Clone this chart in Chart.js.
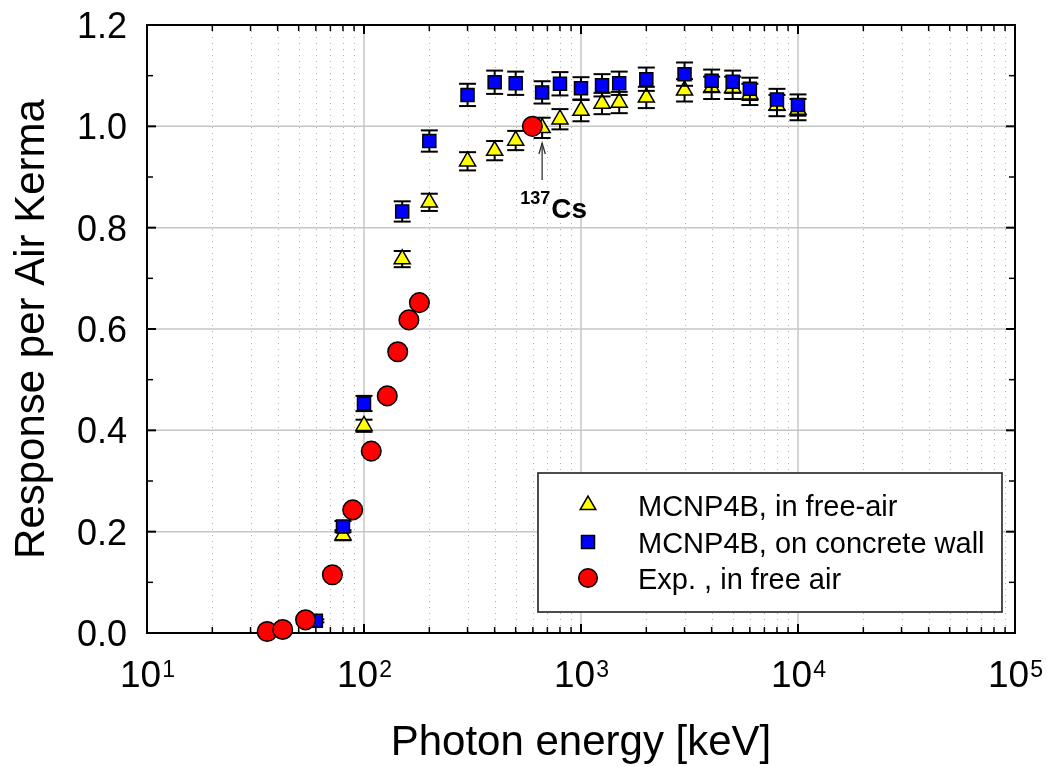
<!DOCTYPE html>
<html>
<head>
<meta charset="utf-8">
<script src="https://cdn.jsdelivr.net/npm/chart.js@4.4.1/dist/chart.umd.min.js"></script>
<style>
  html, body { margin: 0; padding: 0; background: #ffffff; }
  canvas { display: block; }
</style>
</head>
<body>
<canvas id="chart" width="1047" height="767"></canvas>
<script>
// Photon energies (keV) and detector response per unit air kerma
const freeAirEnergy   = [80, 100, 150, 200, 300, 400, 500, 662, 800, 1000, 1250, 1500, 2000, 3000, 4000, 5000, 6000, 8000, 10000];
const freeAirResponse = [0.193, 0.409, 0.738, 0.850, 0.931, 0.952, 0.972, 0.997, 1.014, 1.031, 1.045, 1.047, 1.057, 1.071, 1.076, 1.076, 1.063, 1.041, 1.033];
const freeAirError    = [0.010, 0.012, 0.016, 0.017, 0.018, 0.019, 0.019, 0.020, 0.020, 0.021, 0.021, 0.021, 0.021, 0.022, 0.022, 0.022, 0.021, 0.021, 0.021];

const wallEnergy   = [60, 80, 100, 150, 200, 300, 400, 500, 662, 800, 1000, 1250, 1500, 2000, 3000, 4000, 5000, 6000, 8000, 10000];
const wallResponse = [0.024, 0.210, 0.453, 0.832, 0.971, 1.062, 1.087, 1.085, 1.067, 1.084, 1.075, 1.081, 1.085, 1.093, 1.103, 1.090, 1.088, 1.074, 1.053, 1.042];
const wallError    = [0.003, 0.011, 0.015, 0.020, 0.021, 0.022, 0.023, 0.023, 0.022, 0.023, 0.022, 0.022, 0.023, 0.023, 0.023, 0.022, 0.022, 0.022, 0.021, 0.021];

const expEnergy   = [35.8, 42.2, 53.8, 71.5, 88.7, 108, 128, 143, 161, 180, 597];
const expResponse = [0.003, 0.007, 0.026, 0.115, 0.243, 0.359, 0.468, 0.555, 0.618, 0.652, 1.000];

const seriesNames = ['MCNP4B, in free-air', 'MCNP4B, on concrete wall', 'Exp. , in free air'];

const yTickLabels = ['0.0', '0.2', '0.4', '0.6', '0.8', '1.0', '1.2'];
const xTickExponents = [1, 2, 3, 4, 5];
const xTitle = 'Photon energy [keV]';
const yTitle = 'Response per Air Kerma';

// 137Cs reference energy marker
const csEnergy = 662;
const csArrowFrom = 0.894;
const csArrowTo = 0.967;

const FONT = '"Liberation Sans", Arial, Helvetica, sans-serif';

function pts(xs, ys) { return xs.map((v, i) => ({ x: v, y: ys[i] })); }

function strokeLine(ctx, x1, y1, x2, y2) {
  ctx.beginPath(); ctx.moveTo(x1, y1); ctx.lineTo(x2, y2); ctx.stroke();
}

const errorSets = { 0: freeAirError, 1: wallError };

const plotDecor = {
  id: 'plotDecor',
  beforeDatasetsDraw(chart) {
    const { ctx, chartArea: a, scales: { x, y } } = chart;
    ctx.save();

    // dotted minor verticals
    ctx.strokeStyle = '#b0b0b0';
    ctx.lineWidth = 1;
    ctx.setLineDash([1, 5]);
    for (let e = 1; e < 5; e++) {
      for (let m = 2; m <= 9; m++) {
        const px = Math.round(x.getPixelForValue(m * Math.pow(10, e))) + 0.5;
        strokeLine(ctx, px, a.top, px, a.bottom);
      }
    }
    ctx.setLineDash([]);

    // solid major grid
    ctx.strokeStyle = '#c6c6c6';
    ctx.lineWidth = 1.5;
    xTickExponents.slice(1, -1).forEach(e => {
      const px = x.getPixelForValue(Math.pow(10, e));
      strokeLine(ctx, px, a.top, px, a.bottom);
    });
    yTickLabels.slice(1, -1).forEach(t => {
      const py = y.getPixelForValue(parseFloat(t));
      strokeLine(ctx, a.left, py, a.right, py);
    });

    // frame
    ctx.strokeStyle = '#000';
    ctx.lineWidth = 2;
    ctx.strokeRect(a.left, a.top, a.right - a.left, a.bottom - a.top);

    // inward tick marks
    ctx.lineWidth = 2;
    for (let e = 1; e <= 5; e++) {
      const px = x.getPixelForValue(Math.pow(10, e));
      strokeLine(ctx, px, a.bottom, px, a.bottom - 9);
      strokeLine(ctx, px, a.top, px, a.top + 9);
      if (e < 5) {
        for (let m = 2; m <= 9; m++) {
          const q = x.getPixelForValue(m * Math.pow(10, e));
          ctx.lineWidth = 1.5;
          strokeLine(ctx, q, a.bottom, q, a.bottom - 6);
          strokeLine(ctx, q, a.top, q, a.top + 6);
          ctx.lineWidth = 2;
        }
      }
    }
    yTickLabels.forEach((t, i) => {
      const v = parseFloat(t);
      const py = y.getPixelForValue(v);
      strokeLine(ctx, a.left, py, a.left + 9, py);
      strokeLine(ctx, a.right, py, a.right - 9, py);
      if (i < yTickLabels.length - 1) {
        const pm = y.getPixelForValue(v + 0.1);
        ctx.lineWidth = 1.5;
        strokeLine(ctx, a.left, pm, a.left + 6, pm);
        strokeLine(ctx, a.right, pm, a.right - 6, pm);
        ctx.lineWidth = 2;
      }
    });

    // tick labels
    ctx.fillStyle = '#000';
    ctx.textBaseline = 'alphabetic';
    ctx.font = '36px ' + FONT;
    ctx.textAlign = 'right';
    yTickLabels.forEach(t => {
      const py = y.getPixelForValue(parseFloat(t));
      ctx.fillText(t, a.left - 20, py + 13);
    });
    ctx.textAlign = 'left';
    xTickExponents.forEach(e => {
      const px = x.getPixelForValue(Math.pow(10, e));
      ctx.font = '37px ' + FONT;
      const wBase = ctx.measureText('10').width;
      ctx.font = '23px ' + FONT;
      const wExp = ctx.measureText(String(e)).width;
      const start = px - (wBase + wExp) / 2;
      ctx.font = '37px ' + FONT;
      ctx.fillText('10', start, a.bottom + 54);
      ctx.font = '23px ' + FONT;
      ctx.fillText(String(e), start + wBase + 1, a.bottom + 44);
    });

    // axis titles
    ctx.font = '42px ' + FONT;
    ctx.textAlign = 'center';
    ctx.fillText(xTitle, (a.left + a.right) / 2, 755);
    ctx.save();
    ctx.translate(44, (a.top + a.bottom) / 2);
    ctx.rotate(-Math.PI / 2);
    ctx.fillText(yTitle, 0, 0);
    ctx.restore();

    ctx.restore();
  },

  beforeDatasetDraw(chart, args) {
    const errs = errorSets[args.index];
    if (!errs) return;
    const { ctx, scales: { x, y } } = chart;
    const data = chart.data.datasets[args.index].data;
    ctx.save();
    ctx.strokeStyle = '#000';
    ctx.lineWidth = 2;
    data.forEach((p, i) => {
      const px = x.getPixelForValue(p.x);
      const top = y.getPixelForValue(p.y + errs[i]);
      const bot = y.getPixelForValue(p.y - errs[i]);
      strokeLine(ctx, px, top, px, bot);
      strokeLine(ctx, px - 8.5, top, px + 8.5, top);
      strokeLine(ctx, px - 8.5, bot, px + 8.5, bot);
    });
    ctx.restore();
  },

  afterDatasetsDraw(chart) {
    const { ctx, scales: { x, y } } = chart;
    ctx.save();

    // 137Cs arrow and label
    const cx = x.getPixelForValue(csEnergy);
    const yFrom = y.getPixelForValue(csArrowFrom);
    const yTo = y.getPixelForValue(csArrowTo);
    ctx.strokeStyle = '#333';
    ctx.lineWidth = 1.3;
    strokeLine(ctx, cx, yFrom, cx, yTo);
    ctx.beginPath();
    ctx.moveTo(cx - 3.2, yTo + 11);
    ctx.lineTo(cx, yTo);
    ctx.lineTo(cx + 3.2, yTo + 11);
    ctx.stroke();
    ctx.fillStyle = '#000';
    ctx.textAlign = 'left';
    ctx.font = 'bold 18px ' + FONT;
    ctx.fillText('137', cx - 22, yFrom + 24);
    const w137 = ctx.measureText('137').width;
    ctx.font = 'bold 28px ' + FONT;
    ctx.fillText('Cs', cx - 22 + w137 + 1, yFrom + 38);

    // legend box with one row per series
    const lx = 538, ly = 473, lw = 464, lh = 139;
    ctx.fillStyle = '#fff';
    ctx.fillRect(lx, ly, lw, lh);
    ctx.strokeStyle = '#3a3a3a';
    ctx.lineWidth = 1.8;
    ctx.strokeRect(lx, ly, lw, lh);
    const rows = [505, 542, 578];
    chart.data.datasets.forEach((ds, i) => {
      ctx.fillStyle = ds.backgroundColor;
      ctx.strokeStyle = ds.borderColor;
      ctx.lineWidth = ds.borderWidth;
      Chart.helpers.drawPoint(ctx, {
        pointStyle: ds.pointStyle,
        radius: ds.legendRadius,
        borderWidth: ds.borderWidth
      }, 588, rows[i]);
    });
    ctx.fillStyle = '#000';
    ctx.font = '29px ' + FONT;
    ctx.textAlign = 'left';
    seriesNames.forEach((n, i) => ctx.fillText(n, 638, rows[i] + 10.5));

    ctx.restore();
  }
};

new Chart(document.getElementById('chart'), {
  type: 'scatter',
  data: {
    datasets: [
      {
        label: seriesNames[0],
        data: pts(freeAirEnergy, freeAirResponse),
        pointStyle: 'triangle',
        pointRadius: 9.3,
        legendRadius: 9,
        backgroundColor: '#ffff00',
        borderColor: '#000000',
        borderWidth: 1.5,
        order: 3,
        clip: false
      },
      {
        label: seriesNames[1],
        data: pts(wallEnergy, wallResponse),
        pointStyle: 'rect',
        pointRadius: 9.2,
        legendRadius: 9.2,
        backgroundColor: '#0000ff',
        borderColor: '#000000',
        borderWidth: 1.5,
        order: 2,
        clip: false
      },
      {
        label: seriesNames[2],
        data: pts(expEnergy, expResponse),
        pointStyle: 'circle',
        pointRadius: 9.8,
        legendRadius: 9.3,
        backgroundColor: '#ff0000',
        borderColor: '#000000',
        borderWidth: 1.5,
        order: 1,
        clip: false
      }
    ]
  },
  options: {
    responsive: false,
    animation: false,
    events: [],
    layout: { padding: { left: 147, top: 25, right: 32, bottom: 134 } },
    plugins: { legend: { display: false }, tooltip: { enabled: false } },
    scales: {
      x: { type: 'logarithmic', min: 10, max: 100000, display: false },
      y: { type: 'linear', min: 0, max: 1.2, display: false }
    }
  },
  plugins: [plotDecor]
});
</script>
</body>
</html>
